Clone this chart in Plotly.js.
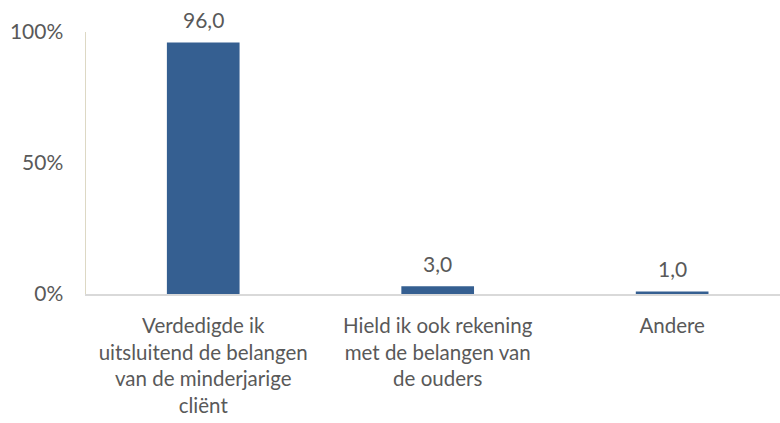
<!DOCTYPE html>
<html><head><meta charset="utf-8">
<script src="https://cdn.plot.ly/plotly-3.0.1.min.js"></script>
<style>html,body{margin:0;padding:0;background:#fff}</style>
</head><body>
<div id="chart" style="width:780px;height:423px"></div>
<script>
const categories = [
  "Verdedigde ik<br>uitsluitend de belangen<br>van de minderjarige<br>cliënt",
  "Hield ik ook rekening<br>met de belangen van<br>de ouders",
  "Andere"
];
const values = [96.0, 3.0, 1.0];
const tickVals = [0, 50, 100];
const tickText = ["0%", "50%", "100%"];

const font = "Lato, Open Sans, sans-serif";
const grey = "#595959";

Plotly.newPlot("chart", [{
  type: "bar",
  x: categories,
  y: values,
  width: 0.31,
  marker: {color: "#355f91"},
  hoverinfo: "none"
}], {
  width: 780, height: 423,
  margin: {l: 86, r: 0, t: 32, b: 129},
  paper_bgcolor: "#fff", plot_bgcolor: "#fff",
  showlegend: false,
  annotations: categories.map((c, i) => ({
    x: c, y: values[i], xref: "x", yref: "y",
    text: values[i].toFixed(1).replace(".", ","),
    showarrow: false, yanchor: "bottom", yshift: 8,
    font: {family: font, size: 21, color: grey}
  })),
  xaxis: {
    range: [-0.5, 2.46],
    showline: true, linecolor: "#d9d9d9", linewidth: 1.5,
    ticks: "", showgrid: false, zeroline: false,
    tickfont: {family: font, size: 20.5, color: grey},
    ticklabelstandoff: 13
  },
  yaxis: {
    range: [0, 100],
    tickvals: tickVals, ticktext: tickText,
    showline: true, linecolor: "#ddd8c4", linewidth: 1.5,
    ticks: "", showgrid: false, zeroline: false,
    tickfont: {family: font, size: 21, color: grey},
    ticklabelstandoff: 17
  }
}, {displayModeBar: false, staticPlot: true});
</script>
</body></html>
